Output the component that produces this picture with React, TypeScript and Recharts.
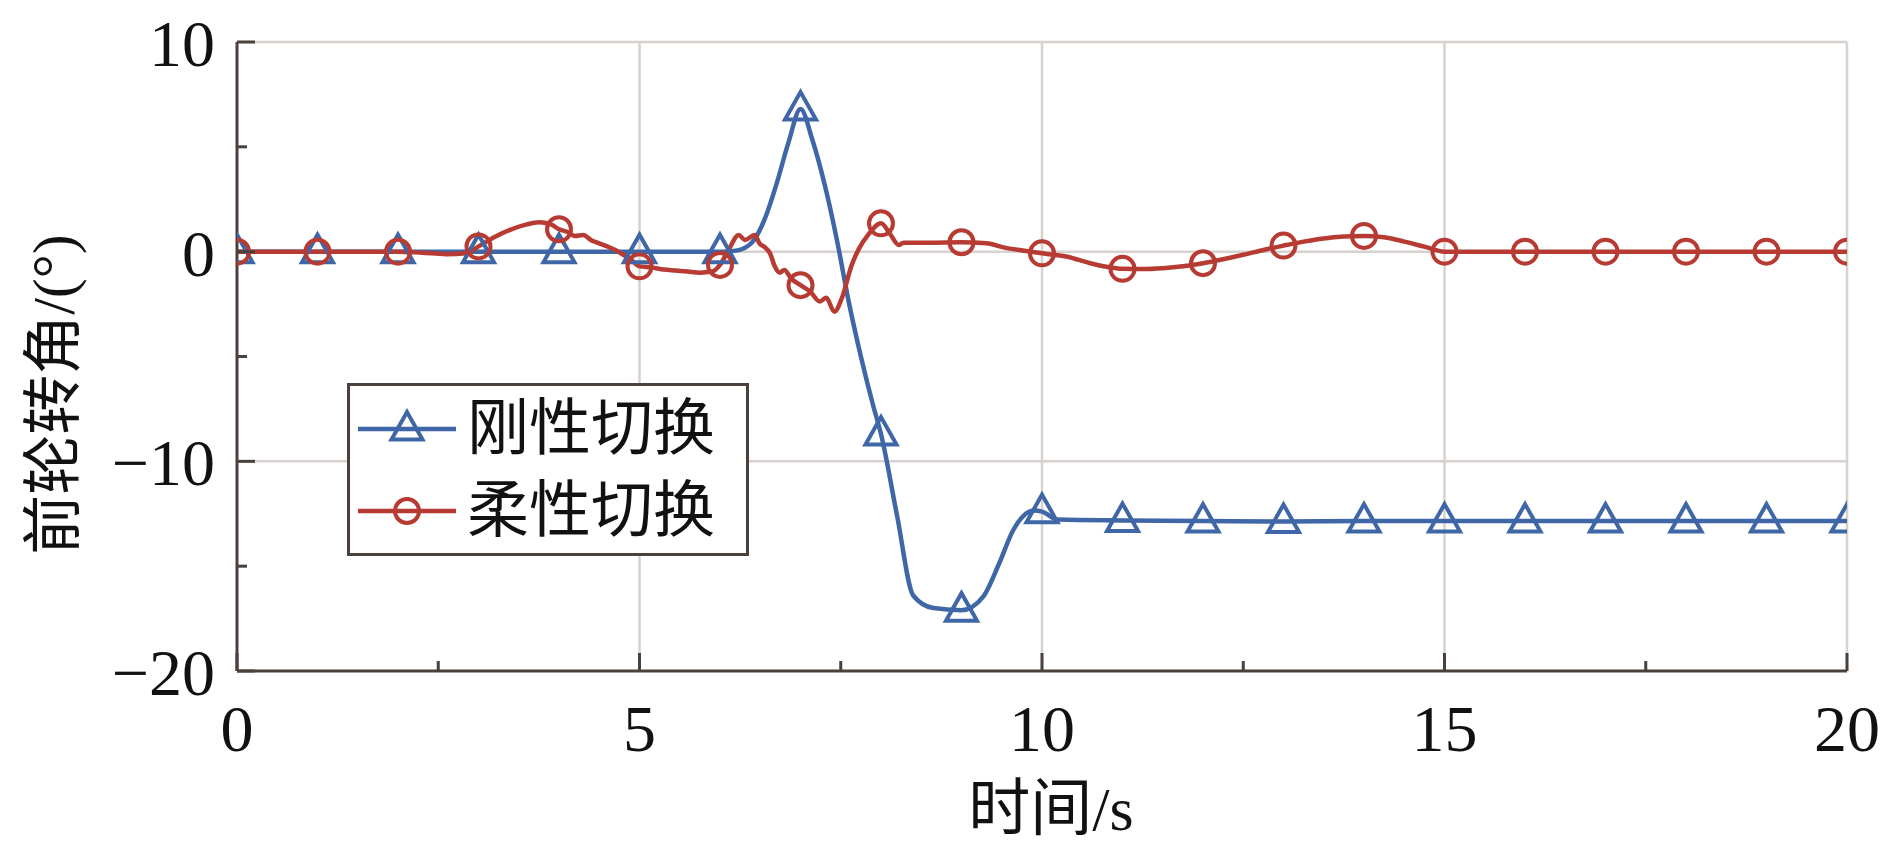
import React from 'react';
import { LineChart, Line, XAxis, YAxis, CartesianGrid } from 'recharts';

// 刚性切换 (rigid switching)
const rigidTime = [0, 1, 2, 3, 4, 5, 6, 6.2, 6.4, 6.55, 6.7, 6.85, 7, 7.15, 7.3, 7.45, 7.6, 7.75, 7.9, 8, 8.2, 8.4, 8.65, 9, 9.27, 9.47, 9.64, 9.77, 9.9, 10, 10.2, 11, 12, 13, 14, 15, 16, 17, 18, 19, 20];
const rigidAngle = [0, 0, 0, 0, 0, 0, 0, 0.05, 0.45, 1.5, 3.2, 5.2, 6.8, 5.3, 3.2, 0.6, -2.4, -5.0, -7.3, -8.7, -12.6, -16.4, -17.0, -17.1, -16.45, -14.85, -13.3, -12.6, -12.35, -12.4, -12.78, -12.82, -12.85, -12.87, -12.85, -12.85, -12.85, -12.85, -12.85, -12.85, -12.85];

// 柔性切换 (flexible switching)
const flexTime = [0, 1, 2, 2.3, 2.6, 2.85, 3, 3.2, 3.4, 3.6, 3.75, 3.9, 4, 4.1, 4.2, 4.3, 4.4, 4.5, 4.6, 4.7, 4.8, 4.9, 5, 5.15, 5.3, 5.45, 5.6, 5.75, 5.9, 6, 6.12, 6.23, 6.31, 6.43, 6.49, 6.56, 6.62, 6.68, 6.74, 6.8, 6.88, 7, 7.12, 7.24, 7.32, 7.42, 7.52, 7.63, 7.73, 7.84, 8, 8.12, 8.22, 8.28, 8.6, 9, 9.31, 9.55, 9.72, 10, 10.3, 10.6, 10.8, 11, 11.25, 11.5, 11.75, 12, 12.25, 12.5, 12.75, 13, 13.25, 13.5, 13.75, 14, 14.25, 14.5, 14.75, 15, 16, 17, 18, 19, 20];
const flexAngle = [0, 0, 0, -0.05, -0.12, -0.08, 0.25, 0.7, 1.05, 1.3, 1.4, 1.3, 1.07, 0.95, 0.75, 0.8, 0.55, 0.4, 0.25, 0.08, -0.15, -0.4, -0.7, -0.75, -0.85, -0.9, -0.95, -1.0, -0.95, -0.63, 0.18, 0.8, 0.56, 0.8, 0.4, 0.2, -0.07, -0.7, -1.0, -0.87, -1.26, -1.6, -1.9, -2.38, -2.2, -2.86, -2.15, -0.71, 0.17, 0.8, 1.35, 0.8, 0.32, 0.43, 0.43, 0.45, 0.4, 0.18, 0.08, -0.08, -0.23, -0.55, -0.72, -0.82, -0.83, -0.79, -0.7, -0.55, -0.36, -0.15, 0.08, 0.29, 0.48, 0.63, 0.72, 0.75, 0.69, 0.48, 0.24, 0, 0, 0, 0, 0, 0];

const seriesNames = ['刚性切换', '柔性切换'];
const xTicks = [0, 2.5, 5, 7.5, 10, 12.5, 15, 17.5, 20];
const yTicks = [-20, -15, -10, -5, 0, 5, 10];
const xGrid = [5, 10, 15, 20];
const yGrid = [10, 0, -10];

const BLUE = '#3f66a6';
const RED = '#b73b33';
const AXIS = '#4a403c';
const GRID = '#d8d2cf';
const FONT = '"Liberation Serif", "Noto Sans CJK SC", serif';

const rigidData = rigidTime.map((t, i) => ({ t, v: rigidAngle[i] }));
const flexData = flexTime.map((t, i) => ({ t, v: flexAngle[i] }));

const triangle = (cx: number, cy: number, color: string, key?: string) => (
  <polygon
    key={key}
    points={`${cx - 15.5},${cy + 10.5} ${cx + 15.5},${cy + 10.5} ${cx},${cy - 17}`}
    fill="none"
    stroke={color}
    strokeWidth={4}
  />
);

const circle = (cx: number, cy: number, color: string, key?: string) => (
  <circle key={key} cx={cx} cy={cy} r={12} fill="none" stroke={color} strokeWidth={4} />
);

const TriangleDot = (props: any) => {
  const { cx, cy, payload, index } = props;
  if (!Number.isInteger(payload.t)) return <g key={`tri-${index}`} />;
  return triangle(cx, cy, BLUE, `tri-${index}`);
};

const CircleDot = (props: any) => {
  const { cx, cy, payload, index } = props;
  if (!Number.isInteger(payload.t)) return <g key={`cir-${index}`} />;
  return circle(cx, cy, RED, `cir-${index}`);
};

const fmt = (v: number) => (v < 0 ? `\u2212${Math.abs(v)}` : `${v}`);

const XTick = (props: any) => {
  const { x, y, payload } = props;
  const major = payload.value % 5 === 0;
  return (
    <g>
      <line x1={x} y1={y} x2={x} y2={y - (major ? 18 : 10)} stroke={AXIS} strokeWidth={3} />
      {major && (
        <text x={x} y={y + 80} textAnchor="middle" fontSize={66} fontFamily={FONT} fill="#111">
          {fmt(payload.value)}
        </text>
      )}
    </g>
  );
};

const YTick = (props: any) => {
  const { x, y, payload } = props;
  const major = payload.value % 10 === 0;
  return (
    <g>
      <line x1={x} y1={y} x2={x + (major ? 18 : 10)} y2={y} stroke={AXIS} strokeWidth={3} />
      {major && (
        <text x={x - 22} y={y + 24} textAnchor="end" fontSize={66} fontFamily={FONT} fill="#111">
          {fmt(payload.value)}
        </text>
      )}
    </g>
  );
};

// legend box drawn over the plot, bottom-left
const LegendBox = () => (
  <div
    style={{
      position: 'absolute',
      left: 347,
      top: 383,
      width: 396,
      height: 167,
      border: `3px solid ${AXIS}`,
      background: '#fff',
    }}
  >
    <svg width={396} height={167} style={{ display: 'block' }}>
      <line x1={8} y1={43} x2={106} y2={43} stroke={BLUE} strokeWidth={4.5} />
      {triangle(57, 43, BLUE)}
      <text x={117} y={43} dominantBaseline="central" fontSize={62} fontFamily={FONT} fill="#111">
        {seriesNames[0]}
      </text>
      <line x1={8} y1={125} x2={106} y2={125} stroke={RED} strokeWidth={4.5} />
      {circle(57, 125, RED)}
      <text x={117} y={125} dominantBaseline="central" fontSize={62} fontFamily={FONT} fill="#111">
        {seriesNames[1]}
      </text>
    </svg>
  </div>
);

export default function App() {
  return (
    <div style={{ position: 'absolute', left: 0, top: 0, width: 1890, height: 857, background: '#fff' }}>
      <LineChart width={1890} height={857} margin={{ top: 42, right: 43, left: 0, bottom: 0 }}>
        <CartesianGrid
          horizontal
          vertical
          horizontalValues={yGrid}
          verticalValues={xGrid}
          stroke={GRID}
          strokeWidth={2.5}
        />
        <XAxis
          dataKey="t"
          type="number"
          domain={[0, 20]}
          ticks={xTicks}
          interval={0}
          height={186}
          tickSize={0}
          tickMargin={0}
          tickLine={false}
          axisLine={{ stroke: AXIS, strokeWidth: 3 }}
          tick={(p: any) => <XTick {...p} />}
          allowDataOverflow
          label={{
            content: (p: any) => {
              const vb = p.viewBox;
              return (
                <text
                  x={vb.x + vb.width / 2 + 9}
                  y={vb.y + 138}
                  textAnchor="middle"
                  dominantBaseline="central"
                  fontSize={62}
                  fontFamily={FONT}
                  fill="#111"
                >
                  时间/s
                </text>
              );
            },
          }}
        />
        <YAxis
          dataKey="v"
          type="number"
          domain={[-20, 10]}
          ticks={yTicks}
          interval={0}
          width={237}
          tickSize={0}
          tickMargin={0}
          tickLine={false}
          axisLine={{ stroke: AXIS, strokeWidth: 3 }}
          tick={(p: any) => <YTick {...p} />}
          allowDataOverflow
          label={{
            content: (p: any) => {
              const vb = p.viewBox;
              const cx = 54;
              const cy = vb.y + vb.height / 2 + 38;
              return (
                <text
                  x={cx}
                  y={cy}
                  transform={`rotate(-90 ${cx} ${cy})`}
                  textAnchor="middle"
                  dominantBaseline="central"
                  fontSize={60}
                  fontFamily={FONT}
                  fill="#111"
                >
                  前轮转角/(°)
                </text>
              );
            },
          }}
        />
        <Line
          data={rigidData}
          dataKey="v"
          name={seriesNames[0]}
          type="monotone"
          stroke={BLUE}
          strokeWidth={4.5}
          dot={TriangleDot}
          activeDot={false}
          isAnimationActive={false}
        />
        <Line
          data={flexData}
          dataKey="v"
          name={seriesNames[1]}
          type="monotone"
          stroke={RED}
          strokeWidth={4.5}
          dot={CircleDot}
          activeDot={false}
          isAnimationActive={false}
        />
      </LineChart>
      <LegendBox />
    </div>
  );
}
